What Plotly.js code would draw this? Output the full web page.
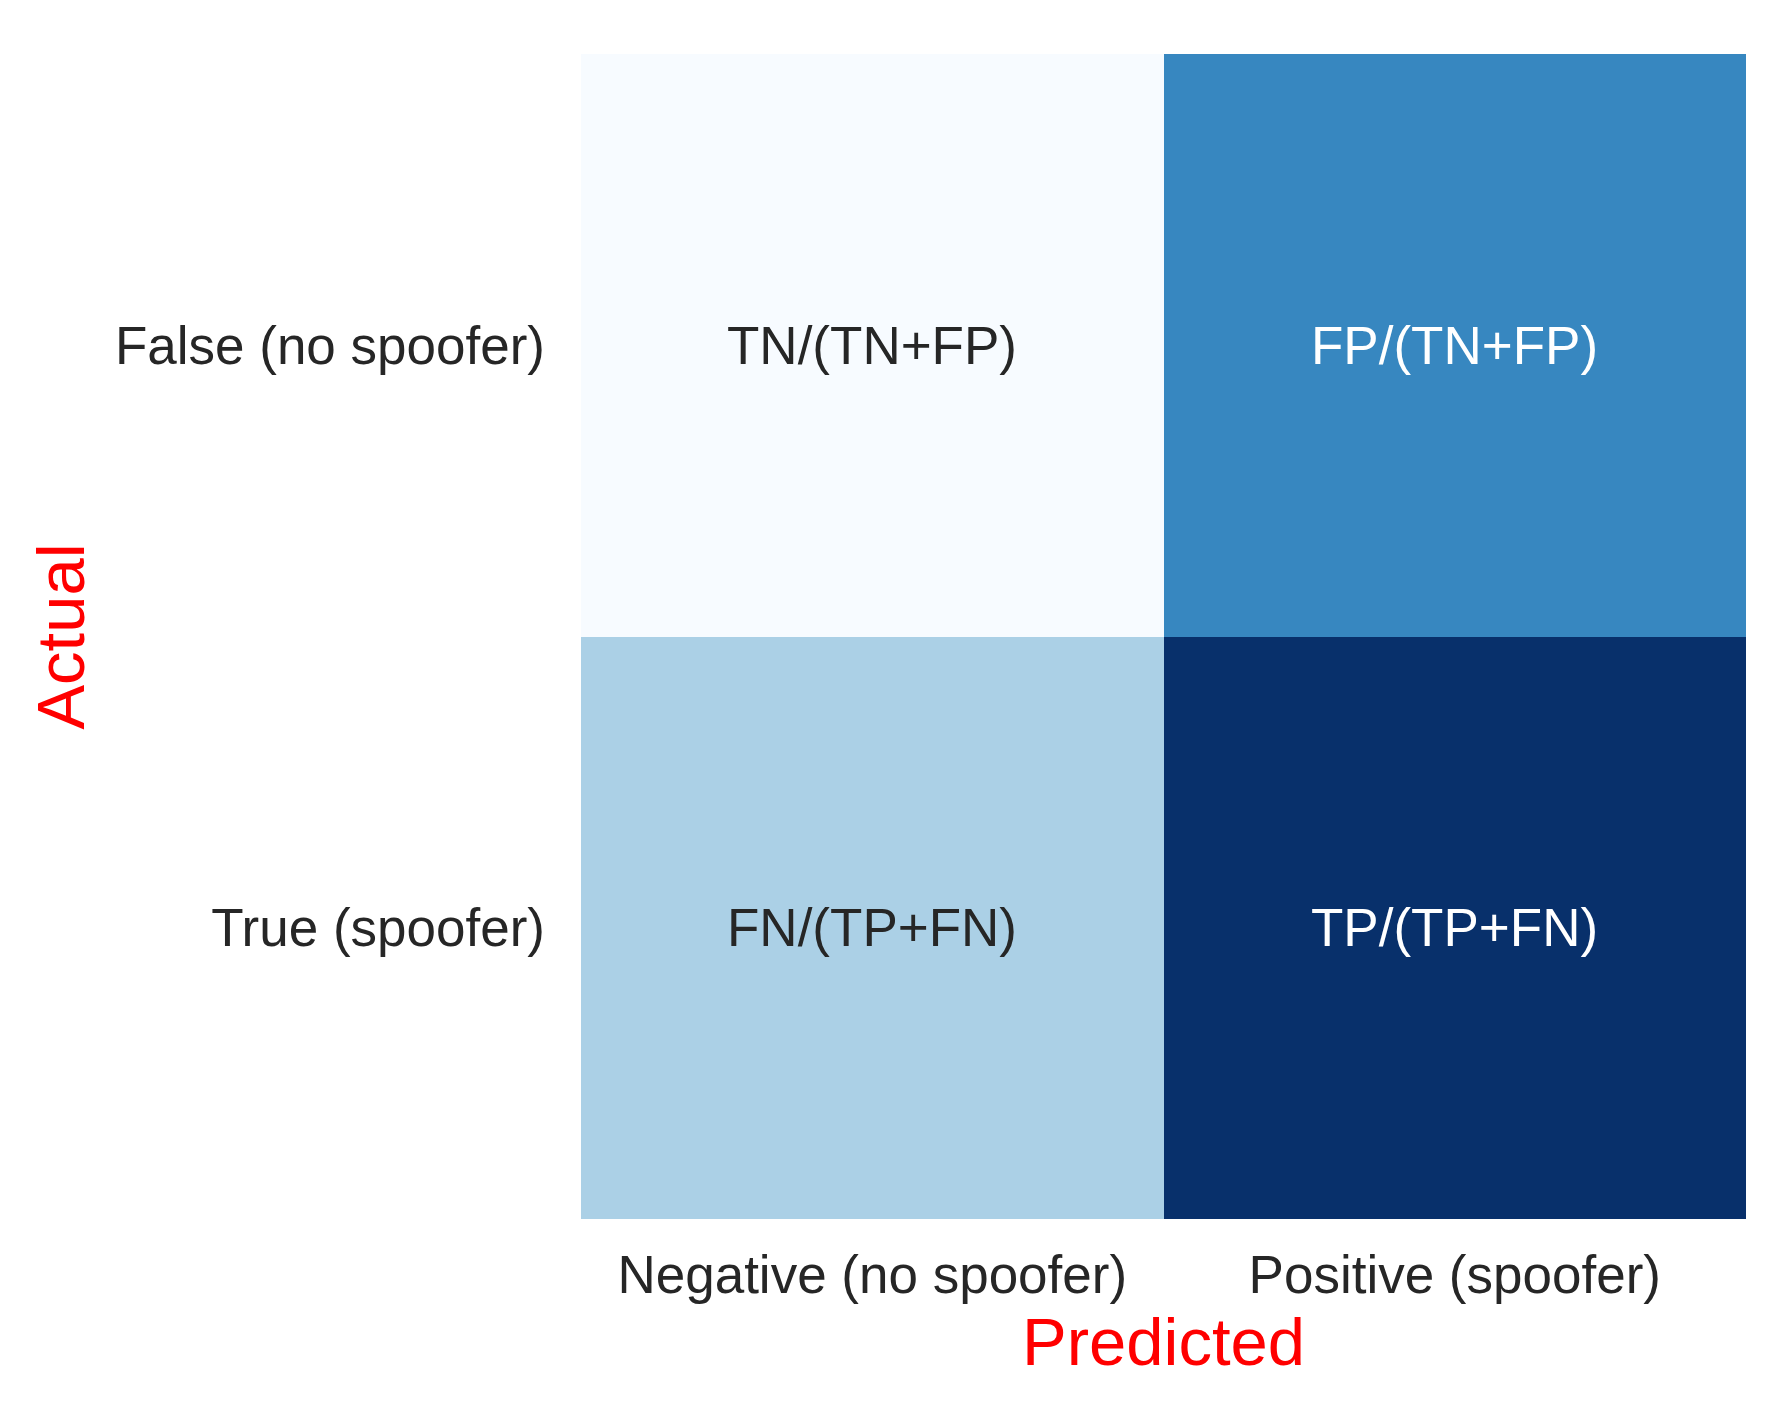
<!DOCTYPE html>
<html>
<head>
<meta charset="utf-8">
<script src="https://cdn.plot.ly/plotly-3.0.1.min.js"></script>
<style>html,body{margin:0;padding:0;background:#fff;}#chart{width:1790px;height:1406px;}</style>
</head>
<body>
<div id="chart"></div>
<script>
const predictedLabels = ["Negative (no spoofer)", "Positive (spoofer)"];
const actualLabels = ["False (no spoofer)", "True (spoofer)"];
const cellValues = [
  [0.0, 0.667],
  [0.333, 1.0]
];
const cellText = [
  ["TN/(TN+FP)", "FP/(TN+FP)"],
  ["FN/(TP+FN)", "TP/(TP+FN)"]
];
const textColors = [
  ["#262626", "#ffffff"],
  ["#262626", "#ffffff"]
];

const blues = [
  [0.0, "#f7fbff"], [0.125, "#deebf7"], [0.25, "#c6dbef"], [0.375, "#9ecae1"],
  [0.5, "#6baed6"], [0.625, "#4292c6"], [0.75, "#2171b5"], [0.875, "#08519c"], [1.0, "#08306b"]
];

const annotations = [];
for (let r = 0; r < actualLabels.length; r++) {
  for (let c = 0; c < predictedLabels.length; c++) {
    annotations.push({
      x: predictedLabels[c], y: actualLabels[r], xref: "x", yref: "y",
      text: cellText[r][c], showarrow: false,
      font: {family: "Liberation Sans, Arial, sans-serif", size: 53, color: textColors[r][c]}
    });
  }
}

const data = [{
  type: "heatmap",
  x: predictedLabels,
  y: actualLabels,
  z: cellValues,
  zmin: 0, zmax: 1,
  colorscale: blues,
  showscale: false,
  hoverinfo: "skip",
  xgap: 0, ygap: 0
}];

const layout = {
  width: 1790, height: 1406,
  margin: {l: 581, r: 44, t: 54, b: 187, pad: 0},
  paper_bgcolor: "#ffffff", plot_bgcolor: "#ffffff",
  font: {family: "Liberation Sans, Arial, sans-serif", color: "#262626"},
  xaxis: {
    type: "category", showgrid: false, zeroline: false, showline: false, ticks: "",
    tickfont: {size: 53, color: "#262626"}, ticklabelstandoff: 20,
    title: {text: "Predicted", font: {size: 67, color: "#ff0000"}, standoff: 10},
    automargin: false
  },
  yaxis: {
    type: "category", autorange: "reversed", showgrid: false, zeroline: false, showline: false, ticks: "",
    tickfont: {size: 53, color: "#262626"}, ticklabelstandoff: 35,
    title: {text: "Actual", font: {size: 67, color: "#ff0000"}, standoff: 8},
    automargin: false
  },
  annotations: annotations,
  showlegend: false
};

Plotly.newPlot("chart", data, layout, {displayModeBar: false, staticPlot: true});
</script>
</body>
</html>
